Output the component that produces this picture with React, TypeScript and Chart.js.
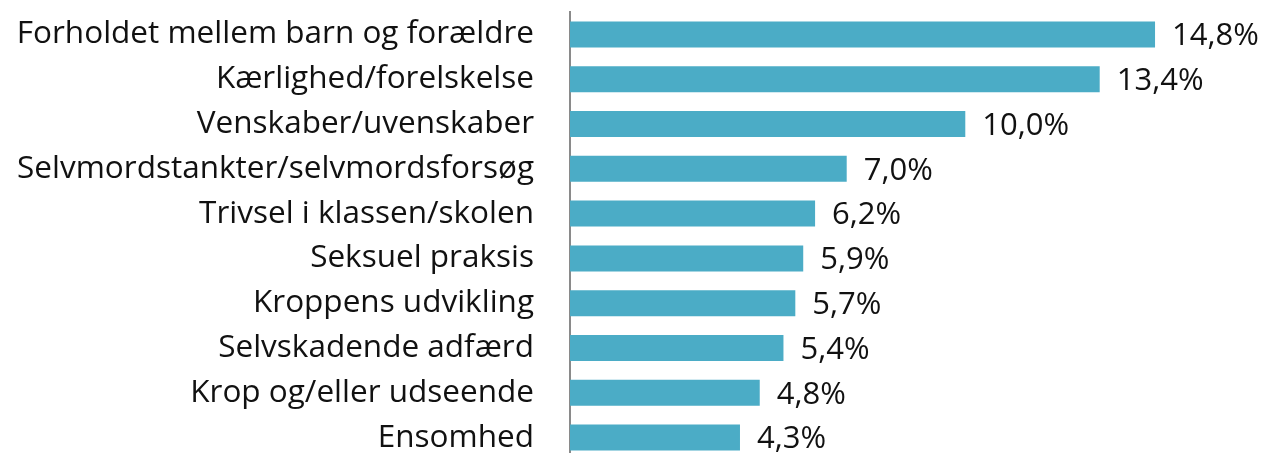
import React, { useEffect, useRef } from "react";
import { Chart, registerables } from "chart.js";

Chart.register(...registerables);

const categories = [
  "Forholdet mellem barn og forældre",
  "Kærlighed/forelskelse",
  "Venskaber/uvenskaber",
  "Selvmordstankter/selvmordsforsøg",
  "Trivsel i klassen/skolen",
  "Seksuel praksis",
  "Kroppens udvikling",
  "Selvskadende adfærd",
  "Krop og/eller udseende",
  "Ensomhed",
];
const values = [14.8, 13.4, 10.0, 7.0, 6.2, 5.9, 5.7, 5.4, 4.8, 4.3];

const FONT = "'Open Sans', sans-serif";

const labelPlugin = {
  id: "valueLabels",
  afterDatasetsDraw(chart: any) {
    const ctx = chart.ctx;
    const meta = chart.getDatasetMeta(0);
    ctx.save();
    ctx.font = `31px ${FONT}`;
    ctx.fillStyle = "#111111";
    ctx.textAlign = "left";
    ctx.textBaseline = "middle";
    meta.data.forEach((bar: any, i: number) => {
      const txt = values[i].toFixed(1).replace(".", ",") + "%";
      ctx.fillText(txt, bar.x + 17, bar.y + 2);
    });
    ctx.restore();
  },
};

export default function App() {
  const ref = useRef<HTMLCanvasElement>(null);
  useEffect(() => {
    const chart = new Chart(ref.current!, {
      type: "bar",
      data: {
        labels: categories,
        datasets: [
          {
            data: values,
            backgroundColor: "#4BACC6",
            borderWidth: 0,
            categoryPercentage: 1,
            barPercentage: 0.58,
          },
        ],
      },
      options: {
        indexAxis: "y",
        animation: false,
        responsive: false,
        maintainAspectRatio: false,
        layout: { padding: { top: 12, right: 20, bottom: 0, left: 0 } },
        plugins: { legend: { display: false }, tooltip: { enabled: false } },
        scales: {
          x: { display: false, min: 0, max: 17 },
          y: {
            grid: { display: false, drawTicks: false },
            border: { display: true, color: "#8a8a8a", width: 2 },
            ticks: {
              font: { family: FONT, size: 31.5 },
              color: "#111111",
              padding: 36,
            },
            afterFit(scale: any) {
              scale.width = 570;
              scale.paddingTop = 0;
              scale.paddingBottom = 0;
            },
          },
        },
      },
      plugins: [labelPlugin],
    });
    return () => chart.destroy();
  }, []);
  return (
    <div style={{ position: "fixed", left: 0, top: 0, width: 1262, height: 460, background: "#fff" }}>
      <canvas ref={ref} width={1262} height={460} style={{ display: "block" }} />
    </div>
  );
}
